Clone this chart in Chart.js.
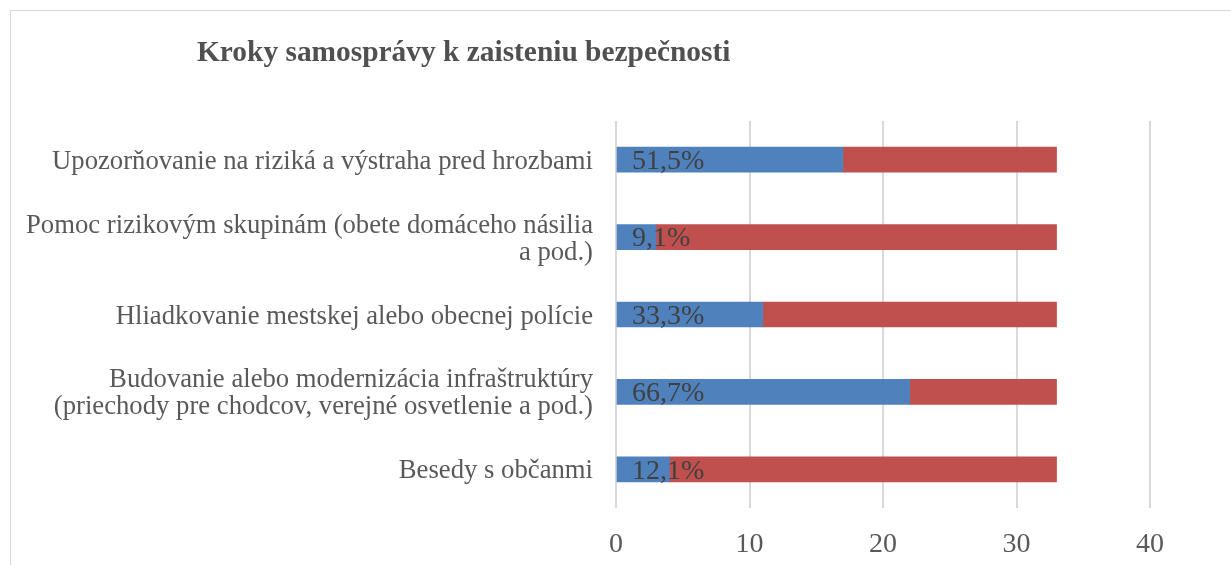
<!DOCTYPE html>
<html>
<head>
<meta charset="utf-8">
<script src="https://cdn.jsdelivr.net/npm/chart.js@4"></script>
<style>
    body { margin: 0; background: #fff; }
    #wrap { position: relative; width: 1231px; height: 565px; overflow: hidden; }
    #frame { position: absolute; left: 10px; top: 10px; width: 1300px; height: 700px; border: 1px solid #d9d9d9; }
    #graf { position: absolute; left: 0; top: 0; }
</style>
</head>
<body>
<div id="wrap">
    <div id="frame"></div>
    <canvas id="graf" width="1231" height="565"></canvas>
</div>
<script>
const titulok = 'Kroky samosprávy k zaisteniu bezpečnosti';
const kategorie = [
    'Upozorňovanie na riziká a výstraha pred hrozbami',
    ['Pomoc rizikovým skupinám (obete domáceho násilia', 'a pod.)'],
    'Hliadkovanie mestskej alebo obecnej polície',
    ['Budovanie alebo modernizácia infraštruktúry', '(priechody pre chodcov, verejné osvetlenie a pod.)'],
    'Besedy s občanmi'
];
const ano = [17, 3, 11, 22, 4];
const nie = [16, 30, 22, 11, 29];
const osX = { min: 0, max: 40, krok: 10 };

const serif = '"Liberation Serif", "Times New Roman", serif';

// percento z celku, s desatinnou ciarkou
const percenta = ano.map((v, i) => (v / (v + nie[i]) * 100).toFixed(1).replace('.', ',') + '%');

const popisky = {
    id: 'popisky',
    afterDatasetsDraw(chart) {
        const ctx = chart.ctx;
        const meta = chart.getDatasetMeta(0);
        ctx.save();
        ctx.font = '28px ' + serif;
        ctx.fillStyle = '#404040';
        ctx.textAlign = 'left';
        ctx.textBaseline = 'middle';
        meta.data.forEach((bar, i) => {
            ctx.fillText(percenta[i], bar.base + 15, bar.y + 2);
        });
        ctx.restore();
    }
};

const nadpis = {
    id: 'nadpis',
    afterDraw(chart) {
        const ctx = chart.ctx;
        ctx.save();
        ctx.font = 'bold 29.4px ' + serif;
        ctx.fillStyle = '#505050';
        ctx.textBaseline = 'middle';
        ctx.fillText(titulok, 197, 53);
        ctx.restore();
    }
};

new Chart(document.getElementById('graf'), {
    type: 'bar',
    data: {
        labels: kategorie,
        datasets: [
            { label: 'áno', data: ano, backgroundColor: '#4f81bd', barThickness: 25 },
            { label: 'nie', data: nie, backgroundColor: '#c0504d', barThickness: 25 }
        ]
    },
    options: {
        indexAxis: 'y',
        responsive: false,
        devicePixelRatio: 1,
        animation: false,
        layout: { padding: { top: 121, left: 16, right: 81, bottom: 0 } },
        plugins: {
            legend: { display: false },
            title: { display: false },
            tooltip: { enabled: false }
        },
        scales: {
            x: {
                stacked: true,
                min: osX.min,
                max: osX.max,
                ticks: {
                    stepSize: osX.krok,
                    color: '#595959',
                    font: { family: serif, size: 28 },
                    padding: 20
                },
                grid: { color: '#d9d9d9', lineWidth: 2, drawTicks: false },
                border: { display: false },
                afterFit(scale) { scale.height = 57; }
            },
            y: {
                stacked: true,
                ticks: {
                    color: '#595959',
                    font: { family: serif, size: 26.7, lineHeight: '27px' },
                    padding: 15,
                    labelOffset: 2
                },
                grid: { display: false },
                border: { display: false },
                afterFit(scale) { scale.width = 600; }
            }
        }
    },
    plugins: [popisky, nadpis]
});
</script>
</body>
</html>
